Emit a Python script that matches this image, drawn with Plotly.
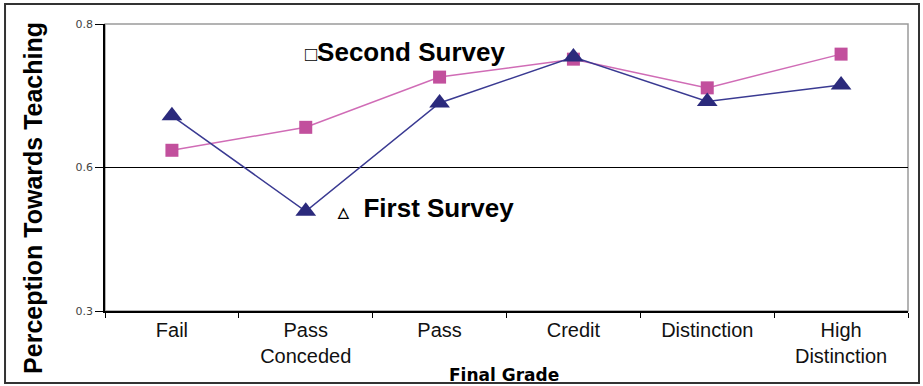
import plotly.graph_objects as go

grades = ["Fail", "Pass<br>Conceded", "Pass", "Credit", "Distinction", "High<br>Distinction"]
first_survey = [0.672, 0.539, 0.690, 0.754, 0.692, 0.715]
second_survey = [0.624, 0.656, 0.726, 0.751, 0.711, 0.758]
y_tick_vals = [0.4, 0.6, 0.8]
y_tick_text = ["0.3", "0.6", "0.8"]

navy = "#2B2A7C"
pink = "#C2509D"

fig = go.Figure()
fig.add_trace(go.Scatter(
    x=grades, y=second_survey, mode="lines+markers", name="Second Survey",
    line=dict(color="#D06CB6", width=1.5),
    marker=dict(symbol="square", size=13, color=pink),
))
fig.add_trace(go.Scatter(
    x=grades, y=first_survey, mode="lines+markers", name="First Survey",
    line=dict(color="#3A3A92", width=1.5),
    marker=dict(symbol="triangle-up", size=18, color=navy),
))

fig.update_layout(
    width=923, height=386,
    margin=dict(l=105, r=15, t=24, b=75),
    paper_bgcolor="white", plot_bgcolor="white",
    showlegend=False,
    font=dict(family="Liberation Sans, Arial, sans-serif", color="black"),
    xaxis=dict(
        type="category", range=[-0.5, 5.5],
        showline=True, linecolor="black", linewidth=1.5,
        ticks="outside", tickson="boundaries", ticklen=5, tickcolor="black",
        showgrid=False, zeroline=False,
        tickfont=dict(size=20, family="Liberation Sans, Arial, sans-serif", color="#111"),
    ),
    yaxis=dict(
        range=[0.4, 0.8],
        tickvals=y_tick_vals, ticktext=y_tick_text,
        showline=True, linecolor="black", linewidth=1.5,
        ticks="outside", ticklen=8, tickcolor="black",
        showgrid=False, zeroline=False,
        tickfont=dict(size=11, family="DejaVu Sans, sans-serif", color="#444"),
        minor=dict(tickvals=[0.6], showgrid=True, gridcolor="black", gridwidth=1.3, ticks=""),
    ),
    shapes=[
        dict(type="rect", xref="paper", yref="paper", x0=0, x1=1, y0=0, y1=1,
             line=dict(color="#9A9A9A", width=1.5), layer="below"),
        dict(type="rect", xref="paper", yref="paper", x0=-0.1245, x1=1.0137, y0=-0.251, y1=1.0697,
             line=dict(color="#333", width=2)),
    ],
    annotations=[
        dict(text="<b>Perception Towards Teaching</b>", textangle=-90, xref="paper", yref="paper",
             x=-0.0897, y=0.394, showarrow=False, xanchor="center", yanchor="middle",
             font=dict(size=25, family="Liberation Sans, Arial, sans-serif", color="black")),
        dict(text="<b>Final Grade</b>", xref="paper", yref="paper", x=0.497, y=-0.223,
             showarrow=False, xanchor="center", yanchor="middle",
             font=dict(size=17, family="DejaVu Sans, sans-serif", color="black")),
        dict(text="<b><span style='font-size:20px'>□</span>Second Survey</b>", xref="paper", yref="paper",
             x=0.247, y=0.902, showarrow=False, xanchor="left", yanchor="middle",
             font=dict(size=26, family="Liberation Sans, Arial, sans-serif", color="black")),
        dict(text="<b><span style='font-size:14px'>△</span>  First Survey</b>", xref="paper", yref="paper",
             x=0.286, y=0.359, showarrow=False, xanchor="left", yanchor="middle",
             font=dict(size=26, family="Liberation Sans, Arial, sans-serif", color="black")),
    ],
)

fig.write_html("out.html")
